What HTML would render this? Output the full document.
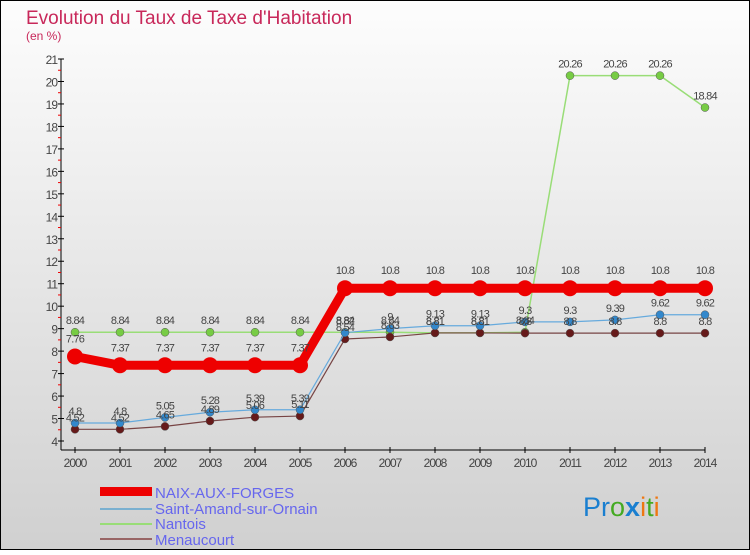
<!DOCTYPE html>
<html><head><meta charset="utf-8"><style>
body{margin:0;width:750px;height:550px;overflow:hidden;font-family:"Liberation Sans",sans-serif}
</style></head><body>
<svg width="750" height="550" xmlns="http://www.w3.org/2000/svg">
<defs><linearGradient id="bg" x1="0" y1="0" x2="0" y2="1"><stop offset="0" stop-color="#fdfdfd"/><stop offset="1" stop-color="#d0d0d0"/></linearGradient></defs>
<rect x="0.5" y="0.5" width="749" height="549" fill="url(#bg)" stroke="#000"/>
<text x="26" y="24" font-size="19" fill="#c8285a">Evolution du Taux de Taxe d'Habitation</text>
<text x="26" y="40" font-size="12" fill="#c8285a">(en %)</text>
<g id="axes"></g><g id="series"></g><g id="labels"></g>
<g>
<rect x="100" y="487" width="52" height="9" fill="#e00"/>
<text x="155" y="498" font-size="15" fill="#6666ee">NAIX-AUX-FORGES</text>
<rect x="100" y="508" width="52" height="2" fill="#7ab0d0"/>
<text x="155" y="514" font-size="15" fill="#6666ee">Saint-Amand-sur-Ornain</text>
<rect x="100" y="523" width="52" height="2" fill="#99dd77"/>
<text x="155" y="529" font-size="15" fill="#6666ee">Nantois</text>
<rect x="100" y="538" width="52" height="2" fill="#996666"/>
<text x="155" y="545" font-size="15" fill="#6666ee">Menaucourt</text>
</g>
<text x="583" y="516" font-size="27"><tspan fill="#1a7fd0">Pr</tspan><tspan fill="#44aa22">o</tspan><tspan fill="#1a7fd0" font-weight="bold">x</tspan><tspan fill="#ee7711">i</tspan><tspan fill="#44aa22">t</tspan><tspan fill="#ee7711">i</tspan></text>
</svg>
<script>
const years=[2000,2001,2002,2003,2004,2005,2006,2007,2008,2009,2010,2011,2012,2013,2014];
const naix=[7.76,7.37,7.37,7.37,7.37,7.37,10.8,10.8,10.8,10.8,10.8,10.8,10.8,10.8,10.8];
const saint=[4.8,4.8,5.05,5.28,5.39,5.39,8.82,9,9.13,9.13,9.3,9.3,9.39,9.62,9.62];
const nantois=[8.84,8.84,8.84,8.84,8.84,8.84,8.84,8.84,8.81,8.81,8.84,20.26,20.26,20.26,18.84];
const menau=[4.52,4.52,4.65,4.89,5.06,5.11,8.54,8.63,8.81,8.81,8.8,8.8,8.8,8.8,8.8];
const yTicks=[4,5,6,7,8,9,10,11,12,13,14,15,16,17,18,19,20,21];
const NS="http://www.w3.org/2000/svg";
const X=i=>75+i*45, Y=v=>441-(v-4)*22.47;
function mk(t,a,p){const e=document.createElementNS(NS,t);for(const k in a)e.setAttribute(k,a[k]);document.getElementById(p).appendChild(e);return e;}
let l=mk('line',{x1:61,y1:59,x2:61,y2:450,stroke:'#000'},'axes');

l=mk('line',{x1:61,y1:450,x2:705,y2:450,stroke:'#000'},'axes');

yTicks.forEach(v=>{const y=Y(v);mk('line',{x1:58,y1:y,x2:64,y2:y,stroke:'#000'},'axes');
 if(v<21)mk('line',{x1:58,y1:Y(v+0.5),x2:61,y2:Y(v+0.5),stroke:'#e00'},'axes');
 const t=mk('text',{x:57,y:y+5,'font-size':12,fill:'#444','text-anchor':'end','letter-spacing':'-1'},'axes');t.textContent=v;
 });
years.forEach((yr,i)=>{mk('line',{x1:X(i),y1:447,x2:X(i),y2:453,stroke:'#000'},'axes');
 const t=mk('text',{x:X(i),y:467,'font-size':12,fill:'#444','text-anchor':'middle','letter-spacing':'-1'},'axes');t.textContent=yr;
 });
function series(d,col,w,r,dot,name,labOff){
 const pl=mk('polyline',{points:d.map((v,i)=>X(i)+','+Y(v)).join(' '),fill:'none',stroke:col,'stroke-width':w,'stroke-linejoin':'round'},'series');
 
 d.forEach((v,i)=>{const c=mk('circle',{cx:X(i),cy:Y(v),r:r,fill:dot,stroke:w>3?'none':'#555','stroke-width':0.5},'series');
  
  const t=mk('text',{x:X(i),y:Y(v)-labOff,'font-size':11,fill:'#444','text-anchor':'middle','letter-spacing':'-0.8'},'labels');t.textContent=v;
  });
}
series(nantois,'#99dd77',1.5,4,'#77cc44','nantois',8);
series(menau,'#774444',1.2,4,'#661a1a','menaucourt',8);
series(saint,'#66aadd',1.2,4,'#3388cc','saint-amand',8);
series(naix,'#ee0000',9,8,'#ee0000','naix',14);
</script>
</body></html>
